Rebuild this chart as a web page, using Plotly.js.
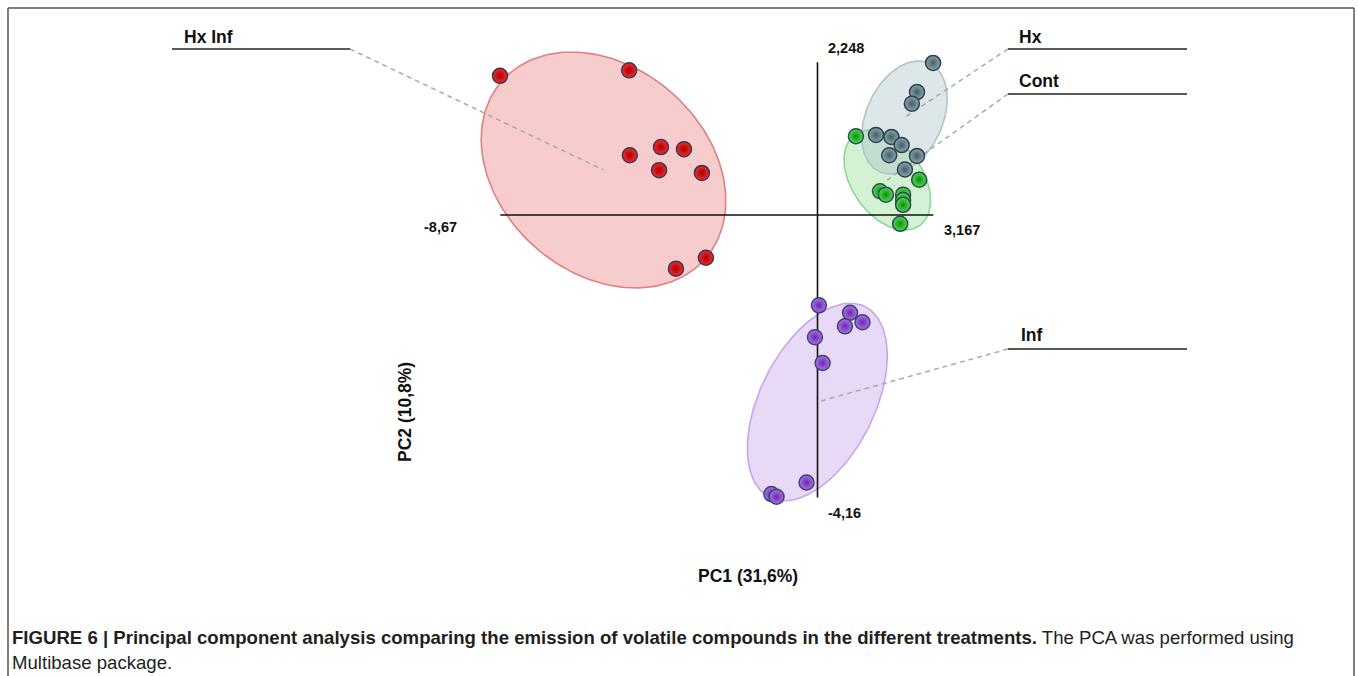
<!DOCTYPE html>
<html>
<head>
<meta charset="utf-8">
<script src="https://cdn.plot.ly/plotly-3.0.1.min.js"></script>
<style>
html,body{margin:0;padding:0;background:#fff;}
#chart{width:1358px;height:676px;}
</style>
</head>
<body>
<div id="chart"></div>
<script>
// ---------- DATA ----------
const groups = ['Hx Inf', 'Hx', 'Cont', 'Inf'];

const hxInfX = [-8.68, -5.15, -5.13, -4.28, -3.65, -4.33, -3.16, -3.87, -3.05];
const hxInfY = [2.05, 2.13, 0.88, 1.00, 0.97, 0.66, 0.62, -0.79, -0.63];

const hxX = [3.16, 2.72, 2.58, 1.60, 2.02, 2.30, 1.96, 2.72, 2.39];
const hxY = [2.24, 1.81, 1.64, 1.18, 1.15, 1.03, 0.88, 0.87, 0.67];

const contX = [1.05, 2.78, 1.71, 1.87, 2.34, 2.34, 2.34, 2.26];
const contY = [1.16, 0.52, 0.35, 0.30, 0.30, 0.22, 0.15, -0.13];

const infX = [0.04, 0.89, 1.23, 0.75, -0.07, 0.14, -0.30, -1.26, -1.12];
const infY = [-1.33, -1.44, -1.58, -1.64, -1.80, -2.18, -3.94, -4.11, -4.15];

// confidence ellipses: centre and two conjugate semi-axis vectors (data units)
const ellipseCenters = [[-5.85, 0.663], [2.378, 1.436], [1.908, 0.515], [-0.005, -2.754]];
const ellipseAxisU = [[2.786, -1.305], [0.684, 0.798], [0.881, -0.673], [1.304, 1.404]];
const ellipseAxisV = [[-1.848, -1.146], [0.948, -0.236], [-0.791, -0.300], [1.399, -0.377]];

// PCA axis limits and their tick labels
const pc1Limits = [-8.67, 3.167];
const pc2Limits = [-4.16, 2.248];
const pc1LimitLabels = ['-8,67', '3,167'];
const pc2LimitLabels = ['-4,16', '2,248'];

const xTitle = 'PC1 (31,6%)';
const yTitle = 'PC2 (10,8%)';
const captionBold = 'FIGURE 6 | Principal component analysis comparing the emission of volatile compounds in the different treatments.';
const captionRest = ' The PCA was performed using';
const captionLine2 = 'Multibase package.';

// ---------- LAYOUT HELPERS (pixel <-> data mapping of the figure) ----------
const W = 1358, H = 676;
const X0 = 817.5, XS = 36.58, Y0 = 215, YS = 67.9;
const px2x = p => (p - X0) / XS;
const py2y = p => (Y0 - p) / YS;

const seriesX = [hxInfX, hxX, contX, infX];
const seriesY = [hxInfY, hxY, contY, infY];

const fills = ['rgba(232,120,120,0.38)', 'rgba(170,192,198,0.40)', 'rgba(130,215,130,0.35)', 'rgba(190,150,230,0.35)'];
const edges = ['#e08080', '#b2c4c8', '#8fd69a', '#c9a6ea'];
const markerCenter = ['#ff2a2a', '#8aa6ae', '#4ee04e', '#ad70ee'];
const markerEdge = ['#a00000', '#445e68', '#128a12', '#6a2aa8'];
const markerLine = ['#343a58', '#2e414a', '#2e4a58', '#3a4670'];

const traces = [];
const drawOrder = [0, 2, 1, 3];
drawOrder.forEach(i => {
  const ex = [], ey = [];
  const c = ellipseCenters[i], u = ellipseAxisU[i], v = ellipseAxisV[i];
  for (let k = 0; k <= 180; k++) {
    const t = 2 * Math.PI * k / 180;
    ex.push(c[0] + u[0] * Math.cos(t) + v[0] * Math.sin(t));
    ey.push(c[1] + u[1] * Math.cos(t) + v[1] * Math.sin(t));
  }
  traces.push({x: ex, y: ey, type: 'scatter', mode: 'lines', fill: 'toself',
    fillcolor: fills[i], line: {color: edges[i], width: 1.6}, hoverinfo: 'skip', showlegend: false});
});

// PCA cross axes
traces.push({x: pc1Limits, y: [0, 0], type: 'scatter', mode: 'lines',
  line: {color: '#111', width: 1.6}, hoverinfo: 'skip', showlegend: false});
traces.push({x: [0, 0], y: pc2Limits, type: 'scatter', mode: 'lines',
  line: {color: '#111', width: 1.6}, hoverinfo: 'skip', showlegend: false});

// label leaders (label anchor in pixels -> ellipse centre)
const labelAnchor = [[350, 49], [1008, 49], [1008, 94], [1008, 349]];
groups.forEach((g, i) => {
  traces.push({x: [px2x(labelAnchor[i][0]), ellipseCenters[i][0]],
    y: [py2y(labelAnchor[i][1]), ellipseCenters[i][1]], type: 'scatter', mode: 'lines',
    line: {color: '#aaaaaa', width: 1.5, dash: '5px,4px'}, hoverinfo: 'skip', showlegend: false});
});

// points
[0, 2, 1, 3].forEach(i => {
  traces.push({x: seriesX[i], y: seriesY[i], type: 'scatter', mode: 'markers', name: groups[i],
    marker: {size: 15, color: markerCenter[i], gradient: {type: 'radial', color: markerEdge[i]},
      line: {color: markerLine[i], width: 1.5}}, showlegend: false});
});

// ---------- SHAPES & ANNOTATIONS ----------
const shapes = [];
const underline = [[172, 350, 49], [1008, 1187, 49], [1008, 1187, 94], [1008, 1187, 349]];
underline.forEach(u => shapes.push({type: 'line', xref: 'x', yref: 'y',
  x0: px2x(u[0]), x1: px2x(u[1]), y0: py2y(u[2]), y1: py2y(u[2]), line: {color: '#222', width: 1.5}}));
// frame
shapes.push({type: 'line', xref: 'paper', yref: 'paper', x0: 8 / W, x1: 1354 / W, y0: 1 - 8 / H, y1: 1 - 8 / H, line: {color: '#555', width: 1.5}});
shapes.push({type: 'line', xref: 'paper', yref: 'paper', x0: 8 / W, x1: 8 / W, y0: 1 - 8 / H, y1: 0, line: {color: '#555', width: 1.5}});
shapes.push({type: 'line', xref: 'paper', yref: 'paper', x0: 1354 / W, x1: 1354 / W, y0: 1 - 8 / H, y1: 0, line: {color: '#555', width: 1.5}});

const boldFont = {family: 'Liberation Sans, Arial, sans-serif', size: 17.5, color: '#111'};
const numFont = {family: 'Liberation Sans, Arial, sans-serif', size: 14.5, color: '#111'};
const annotations = [];
const labelPos = [[182, 37], [1017, 37], [1017, 81], [1019, 335]];
groups.forEach((g, i) => annotations.push({x: px2x(labelPos[i][0]), y: py2y(labelPos[i][1]), xref: 'x', yref: 'y',
  text: '<b>' + g + '</b>', showarrow: false, xanchor: 'left', yanchor: 'middle', font: boldFont}));

annotations.push({x: pc1Limits[0], y: 0, xref: 'x', yref: 'y', text: '<b>' + pc1LimitLabels[0] + '</b>',
  showarrow: false, xanchor: 'center', yanchor: 'middle', xshift: -60, yshift: -12, font: numFont});
annotations.push({x: pc1Limits[1], y: 0, xref: 'x', yref: 'y', text: '<b>' + pc1LimitLabels[1] + '</b>',
  showarrow: false, xanchor: 'center', yanchor: 'middle', xshift: 29, yshift: -15, font: numFont});
annotations.push({x: 0, y: pc2Limits[0], xref: 'x', yref: 'y', text: '<b>' + pc2LimitLabels[0] + '</b>',
  showarrow: false, xanchor: 'center', yanchor: 'middle', xshift: 27, yshift: -16, font: numFont});
annotations.push({x: 0, y: pc2Limits[1], xref: 'x', yref: 'y', text: '<b>' + pc2LimitLabels[1] + '</b>',
  showarrow: false, xanchor: 'center', yanchor: 'middle', xshift: 28, yshift: 14, font: numFont});

annotations.push({x: 748 / W, y: 1 - 576 / H, xref: 'paper', yref: 'paper', text: '<b>' + xTitle + '</b>',
  showarrow: false, xanchor: 'center', yanchor: 'middle', font: boldFont});
annotations.push({x: 405 / W, y: 1 - 412 / H, xref: 'paper', yref: 'paper', text: '<b>' + yTitle + '</b>',
  showarrow: false, xanchor: 'center', yanchor: 'middle', textangle: -90, font: boldFont});

const capFont = {family: 'Liberation Sans, Arial, sans-serif', size: 18.6, color: '#231f20'};
annotations.push({x: 10 / W, y: 1 - 637 / H, xref: 'paper', yref: 'paper',
  text: '<b>' + captionBold + '</b>' + captionRest, showarrow: false, xanchor: 'left', yanchor: 'middle', font: capFont});
annotations.push({x: 10 / W, y: 1 - 662 / H, xref: 'paper', yref: 'paper',
  text: captionLine2, showarrow: false, xanchor: 'left', yanchor: 'middle', font: capFont});

const layout = {
  width: W, height: H,
  margin: {l: 0, r: 0, t: 0, b: 0, pad: 0},
  paper_bgcolor: '#fff', plot_bgcolor: '#fff',
  xaxis: {range: [px2x(0), px2x(W)], visible: false, fixedrange: true},
  yaxis: {range: [py2y(H), py2y(0)], visible: false, fixedrange: true},
  shapes: shapes, annotations: annotations, showlegend: false, hovermode: false
};

Plotly.newPlot('chart', traces, layout, {displayModeBar: false, staticPlot: true});
</script>
</body>
</html>
